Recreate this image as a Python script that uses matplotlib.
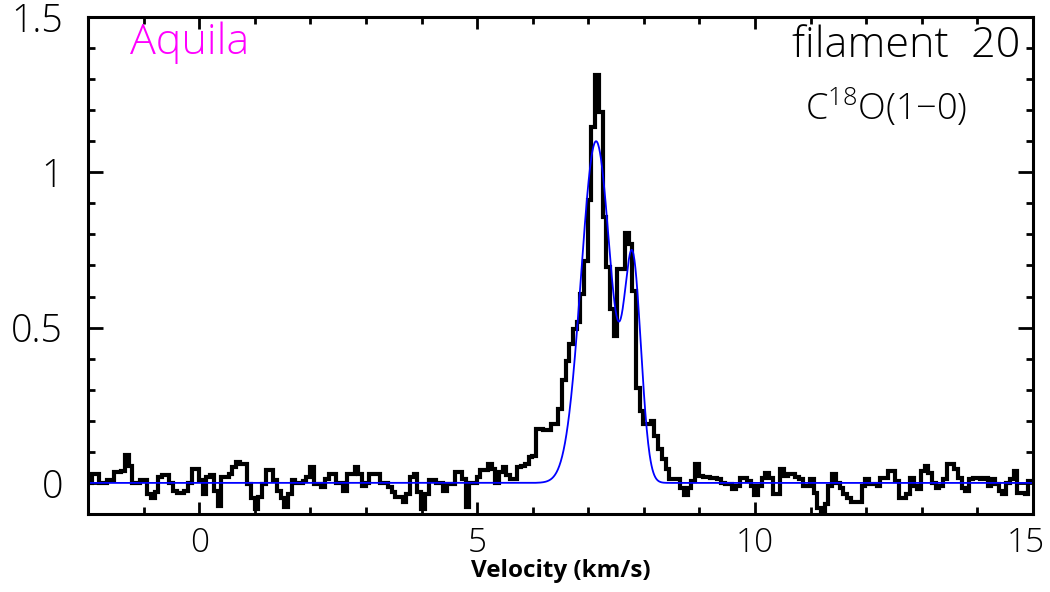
import numpy as np
import matplotlib
matplotlib.use("Agg")
import matplotlib.pyplot as plt
import matplotlib.transforms as mtransforms
from matplotlib.ticker import MultipleLocator

# ---- data ----
v_start = -2.0          # km/s, left edge of first channel
dv = 0.0666             # km/s channel width
intensity = [
    0.0, 0.03, 0.03, 0.0, 0.0, 0.01, 0.01, 0.035, 0.035, 0.038,
    0.09, 0.056, 0.0, 0.0, 0.01, 0.01, -0.035, -0.05, -0.03, 0.02,
    0.024, 0.024, 0.0, -0.025, -0.033, -0.033, -0.025, 0.0, 0.045, 0.045,
    0.008, -0.035, 0.018, 0.024, -0.025, -0.073, 0.02, 0.02, 0.03, 0.05,
    0.067, 0.06, 0.06, -0.003, -0.05, -0.084, -0.046, -0.003, 0.04, 0.04,
    0.008, -0.025, -0.05, -0.078, -0.035, 0.008, 0.0, 0.0, 0.005, 0.018,
    0.05, -0.003, -0.003, -0.012, 0.013, 0.03, 0.03, 0.0, 0.0, -0.025,
    0.03, 0.03, 0.05, 0.03, -0.009, 0.0, 0.03, 0.03, 0.03, 0.0,
    0.0, -0.014, -0.03, -0.046, -0.046, -0.062, -0.035, 0.018, 0.03, -0.03,
    -0.084, -0.035, 0.008, 0.008, 0.0, 0.0, -0.025, -0.003, -0.003, 0.035,
    0.035, 0.013, -0.078, 0.0, 0.0, 0.018, 0.04, 0.04, 0.06, 0.045,
    0.0, 0.034, 0.05, 0.024, 0.013, 0.013, 0.05, 0.056, 0.06, 0.083,
    0.088, 0.174, 0.174, 0.17, 0.17, 0.19, 0.19, 0.238, 0.33, 0.394,
    0.448, 0.497, 0.517, 0.609, 0.716, 0.91, 1.146, 1.313, 1.195, 0.856,
    0.695, 0.56, 0.474, 0.69, 0.69, 0.803, 0.77, 0.619, 0.307, 0.232,
    0.19, 0.19, 0.2, 0.152, 0.109, 0.076, 0.044, 0.014, 0.014, 0.014,
    -0.015, -0.04, -0.015, 0.006, 0.06, 0.022, 0.02, 0.02, 0.017, 0.017,
    0.012, 0.0, -0.004, -0.004, -0.02, -0.01, 0.017, 0.017, 0.006, -0.01,
    -0.04, -0.01, 0.017, 0.033, 0.017, -0.037, -0.037, 0.044, 0.023, 0.028,
    0.028, 0.02, 0.012, -0.01, -0.01, 0.012, -0.031, -0.08, -0.09, -0.069,
    -0.01, 0.028, 0.001, -0.015, -0.037, -0.047, -0.063, -0.063, -0.063, -0.01,
    0.012, -0.004, -0.004, -0.01, 0.017, 0.017, 0.039, 0.039, 0.006, -0.047,
    -0.047, -0.037, 0.017, -0.01, -0.02, 0.039, 0.055, 0.033, 0.001, -0.015,
    -0.01, 0.012, 0.06, 0.06, 0.044, 0.017, -0.015, -0.026, 0.012, 0.017,
    0.017, 0.012, 0.017, -0.01, 0.012, -0.004, -0.026, -0.037, 0.001, 0.012,
    0.039, -0.031, -0.031, -0.037, 0.006, 0.006,
]

# two-component Gaussian fit
fit_amp = [1.10, 0.69]
fit_center = [7.14, 7.80]
fit_sigma = [0.27, 0.15]

region = "Aquila"
source = "filament  20"
line = "C$^{\\mathregular{18}}$O(1\u22120)"

x_limits = (-2, 15)
y_limits = (-0.1, 1.5)
x_ticks = [0, 5, 10, 15]
y_ticks = [0, 0.5, 1, 1.5]
y_ticklabels = ["0", "0.5", "1", "1.5"]

# ---- plot ----
plt.rcParams['font.family'] = ['Open Sans', 'DejaVu Sans']
plt.rcParams['mathtext.fontset'] = 'custom'
plt.rcParams['mathtext.rm'] = 'Open Sans:light'

fig = plt.figure(figsize=(10.5, 5.92), dpi=100)
ax = fig.add_axes([0.0838, 0.1318, 0.9, 0.8395])

n = len(intensity)
edges = v_start + dv * np.arange(n + 1)
ax.stairs(intensity, edges, color='black', linewidth=3.0, baseline=None)

vv = np.linspace(x_limits[0], x_limits[1], 2000)
model = np.zeros_like(vv)
for a, c, s in zip(fit_amp, fit_center, fit_sigma):
    model += a * np.exp(-(vv - c) ** 2 / (2 * s ** 2))
ax.plot(vv, model, color='#0000ff', linewidth=1.3)

ax.set_xlim(*x_limits)
ax.set_ylim(*y_limits)
ax.set_xticks(x_ticks)
ax.set_yticks(y_ticks)
ax.set_yticklabels(y_ticklabels)
ax.xaxis.set_minor_locator(MultipleLocator(1))
ax.yaxis.set_minor_locator(MultipleLocator(0.1))

for sp in ax.spines.values():
    sp.set_linewidth(2.2)

ax.tick_params(which='both', direction='in', top=True, right=True, width=2.0)
ax.tick_params(axis='x', which='major', length=8.6, pad=9)
ax.tick_params(axis='x', which='minor', length=4.8)
ax.tick_params(axis='y', which='major', length=10.5, pad=18)
ax.tick_params(axis='y', which='minor', length=4.8)
for lab in ax.get_yticklabels():
    lab.set_fontsize(27)
    lab.set_fontweight('light')
for lab in ax.get_xticklabels():
    lab.set_fontsize(24)
    lab.set_fontweight('light')
# keep the last x label inside the canvas
last = ax.get_xticklabels()[-1]
last.set_transform(last.get_transform() +
                   mtransforms.ScaledTranslation(-5 / 72, 0, fig.dpi_scale_trans))

ax.set_xlabel("Velocity (km/s)", fontsize=17.5, fontweight='bold', labelpad=-1)

ax.text(0.044, 0.925, region, transform=ax.transAxes, color='#ff00ff',
        fontsize=31, fontweight='light', ha='left', va='baseline')
ax.text(0.986, 0.92, source, transform=ax.transAxes, color='black',
        fontsize=31, fontweight='light', ha='right', va='baseline')
ax.text(0.845, 0.793, line, transform=ax.transAxes, color='black',
        fontsize=26, fontweight='light', ha='center', va='baseline')

fig.savefig("out.png", dpi=100)
